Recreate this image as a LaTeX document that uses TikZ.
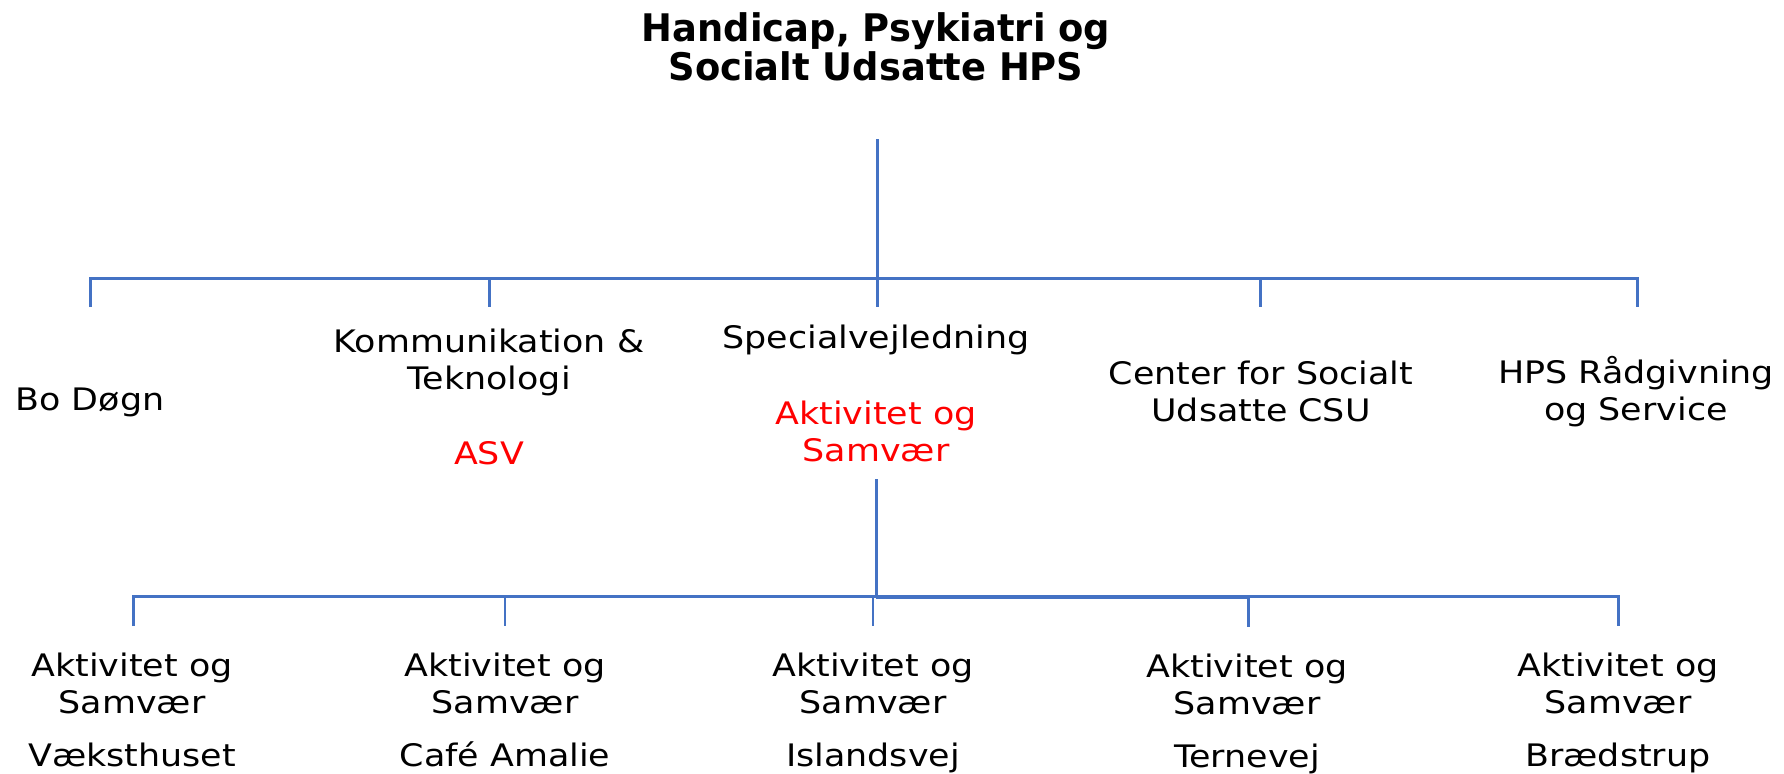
\documentclass[tikz,border=0pt]{standalone}
\usepackage{fontspec}
\setmainfont{DejaVu Sans}
\newfontfamily\labfont[FakeStretch=1.125]{DejaVu Sans}
\newfontfamily\titfont[FakeStretch=0.97]{DejaVu Sans}
\definecolor{orgblue}{HTML}{4472C4}
\definecolor{asvred}{RGB}{255,0,0}
\newcommand\ustrut{\rule{0pt}{1em}}
\begin{document}
\begin{tikzpicture}[x=1pt,y=-1pt,
  conn/.style={draw=orgblue,line width=3pt},
  lab/.style={anchor=north,inner sep=0pt,align=center,font=\labfont\fontsize{31}{37}\selectfont},
  ttl/.style={anchor=north,inner sep=0pt,align=center,font=\titfont\bfseries\fontsize{38}{39.5}\selectfont}]
\useasboundingbox (0,0) rectangle (1784,773);

% texts
\node[ttl] (title) at (876,3) {\ustrut Handicap, Psykiatri og\\Socialt Udsatte HPS};
\node[lab] (bo) at (90,379) {\ustrut Bo Døgn};
\node[lab] (komm) at (489,321) {\ustrut Kommunikation \&\\Teknologi\\[38pt]{\color{asvred}ASV}};
\node[lab] (spec) at (876,317) {\ustrut Specialvejledning\\[39pt]{\color{asvred}Aktivitet og}\\{\color{asvred}Samvær}};
\node[lab] (csu) at (1261,353) {\ustrut Center for Socialt\\Udsatte CSU};
\node[lab] (hps) at (1636,352) {\ustrut HPS Rådgivning\\og Service};

\node[lab] (b1) at (132,645) {\ustrut Aktivitet og\\Samvær\\[16pt]Væksthuset};
\node[lab] (b2) at (505,645) {\ustrut Aktivitet og\\Samvær\\[16pt]Café Amalie};
\node[lab] (b3) at (873,645) {\ustrut Aktivitet og\\Samvær\\[16pt]Islandsvej};
\node[lab] (b4) at (1247,646) {\ustrut Aktivitet og\\Samvær\\[16pt]Ternevej};
\node[lab] (b5) at (1618,645) {\ustrut Aktivitet og\\Samvær\\[16pt]Brædstrup};

% top tree
\coordinate (t0) at (877,139);
\coordinate (tb) at (877,278);
\coordinate (tl) at (90,278);
\coordinate (tr) at (1637,278);
\coordinate (tk) at (489,278);
\coordinate (tc) at (1260,278);
\coordinate (td1) at (90,307);
\coordinate (td2) at (489,307);
\coordinate (td3) at (877,307);
\coordinate (td4) at (1260,307);
\coordinate (td5) at (1637,307);
\draw[conn] (t0) -- (td3);
\draw[conn] (td1) -- (tl) -- (tr) -- (td5);
\draw[conn] (tk) -- (td2);
\draw[conn] (tc) -- (td4);

% bottom tree
\coordinate (s0) at (876,479);
\coordinate (sb) at (876,596);
\coordinate (sl) at (133,596);
\coordinate (sr) at (1618,596);
\coordinate (sx1) at (876,597.5);
\coordinate (sx2) at (1248,597.5);
\coordinate (s2) at (505,596);
\coordinate (s3) at (873,596);
\coordinate (s4) at (1248,596);
\coordinate (sd1) at (133,626);
\coordinate (sd2) at (505,626);
\coordinate (sd3) at (873,626);
\coordinate (sd4) at (1248,627);
\coordinate (sd5) at (1618,626);
\draw[conn] (s0) -- (sb);
\draw[conn] (sd1) -- (sl) -- (sr) -- (sd5);
\draw[conn,line width=3.5pt] (sx1) -- (sx2);
\draw[conn,line width=2pt] (s2) -- (sd2);
\draw[conn,line width=2pt] (s3) -- (sd3);
\draw[conn] (s4) -- (sd4);
\end{tikzpicture}
\end{document}
